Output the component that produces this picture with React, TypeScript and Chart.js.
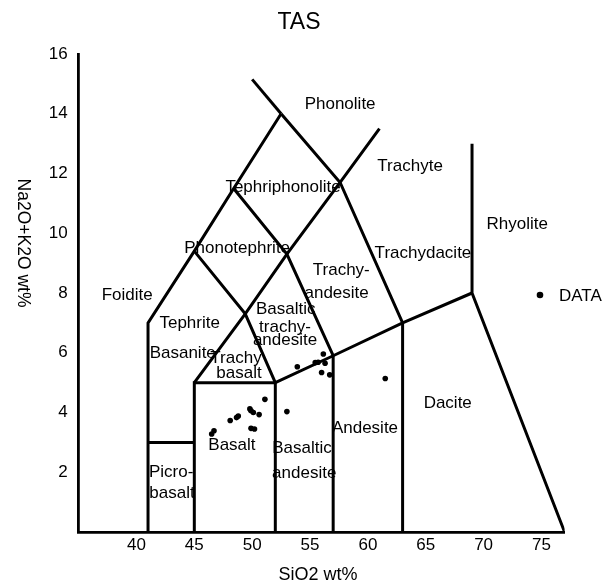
import { useEffect, useRef } from "react";
import { Chart, registerables } from "chart.js";

Chart.register(...registerables);

// ---- axis ticks ----
const xTicks = [40, 45, 50, 55, 60, 65, 70, 75];
const yTicks = [2, 4, 6, 8, 10, 12, 14, 16];

// ---- sample data (SiO2 wt%, Na2O+K2O wt%) ----
const sio2 = [51.1, 49.9, 50.1, 50.6, 49.8, 48.8, 48.65, 48.1, 49.9, 50.2, 46.7, 46.5, 53.0, 53.9, 55.45, 55.7, 56.15, 56.3, 56.0, 56.7, 61.5];
const alkali = [4.44, 4.06, 4.0, 3.93, 4.12, 3.88, 3.83, 3.73, 3.47, 3.45, 3.39, 3.28, 4.03, 5.53, 5.67, 5.68, 5.96, 5.65, 5.34, 5.26, 5.14];

// ---- TAS field boundaries (polylines, [SiO2, alkali]) ----
const boundaryLines: number[][][] = [
  [[41, 0], [41, 7], [45, 9.4], [48.4, 11.5], [52.5, 14]],
  [[52.5, 14], [50, 15.15]],
  [[52.5, 14], [57.6, 11.7], [63, 7]],
  [[45, 0], [45, 5], [52, 5], [52, 0]],
  [[41, 3], [45, 3]],
  [[45, 5], [49.4, 7.3], [53, 9.3], [57.6, 11.7], [61, 13.5]],
  [[45, 9.4], [49.4, 7.3], [52, 5]],
  [[48.4, 11.5], [53, 9.3], [57, 5.9]],
  [[52, 5], [57, 5.9], [63, 7], [69, 8]],
  [[57, 0], [57, 5.9]],
  [[63, 0], [63, 7]],
  [[69, 13], [69, 8], [77, 0]],
];

// ---- field names and their anchor points (data units) ----
const fieldNames = [
  "Phonolite", "Trachyte", "Tephriphonolite", "Rhyolite", "Phonotephrite", "Trachydacite",
  "Trachy-", "andesite", "Foidite", "Tephrite", "Basaltic", "trachy-", "andesite",
  "Basanite", "Trachy", "basalt", "Andesite", "Dacite", "Basalt", "Basaltic", "andesite",
  "Picro-", "basalt",
];
const fieldX = [57.6, 63.65, 52.67, 72.9, 48.7, 64.76, 57.7, 57.3, 39.2, 44.6, 52.9, 52.84, 52.84, 44.0, 48.6, 48.86, 59.75, 66.9, 48.25, 54.3, 54.5, 43.0, 43.07];
const fieldY = [14.33, 12.25, 11.55, 10.31, 9.51, 9.34, 8.77, 8.0, 7.93, 7.0, 7.47, 6.86, 6.43, 5.99, 5.83, 5.32, 3.48, 4.32, 2.91, 2.81, 1.98, 2.0, 1.31];

const FONT = "'Liberation Sans', Arial, Helvetica, sans-serif";

export default function App() {
  const ref = useRef<HTMLCanvasElement | null>(null);

  useEffect(() => {
    if (!ref.current) return;

    const textPlugin = {
      id: "tasText",
      afterDatasetsDraw(chart: any) {
        const { ctx, scales } = chart;
        const xs = scales.x;
        const ys = scales.y;
        ctx.save();
        ctx.fillStyle = "#000";
        ctx.textAlign = "center";
        ctx.textBaseline = "middle";
        ctx.font = `17px ${FONT}`;
        fieldNames.forEach((name, i) => {
          ctx.fillText(name, xs.getPixelForValue(fieldX[i]), ys.getPixelForValue(fieldY[i]));
        });
        // title
        ctx.font = `23px ${FONT}`;
        ctx.fillText("TAS", 299, 23);
        // x axis title
        ctx.font = `18px ${FONT}`;
        ctx.fillText("SiO2 wt%", 318, 575);
        // y axis title (reads top to bottom)
        ctx.save();
        ctx.translate(23, 243);
        ctx.rotate(Math.PI / 2);
        ctx.font = `17.5px ${FONT}`;
        ctx.fillText("Na2O+K2O wt%", 0, 0);
        ctx.restore();
        // legend
        ctx.beginPath();
        ctx.arc(540, 295, 3.3, 0, Math.PI * 2);
        ctx.fill();
        ctx.textAlign = "left";
        ctx.font = `17px ${FONT}`;
        ctx.fillText("DATA", 559, 296);
        ctx.restore();
      },
    };

    const boundaryDatasets = boundaryLines.map((line) => ({
      type: "scatter" as const,
      data: line.map(([x, y]) => ({ x, y })),
      showLine: true,
      borderColor: "#000",
      borderWidth: 3,
      pointRadius: 0,
      fill: false,
      borderJoinStyle: "miter" as const,
      tension: 0,
    }));

    const chart = new Chart(ref.current, {
      type: "scatter",
      data: {
        datasets: [
          ...boundaryDatasets,
          {
            label: "DATA",
            data: sio2.map((x, i) => ({ x, y: alkali[i] })),
            pointRadius: 2.8,
            pointBackgroundColor: "#000",
            pointBorderColor: "#000",
            pointBorderWidth: 0,
            showLine: false,
          },
        ],
      },
      options: {
        animation: false,
        responsive: false,
        layout: { padding: { left: 0, top: 54, right: 42.4, bottom: 0 } },
        plugins: {
          legend: { display: false },
          title: { display: false },
          tooltip: { enabled: false },
        },
        scales: {
          x: {
            type: "linear",
            min: 35,
            max: 77,
            grid: { display: false, drawTicks: false },
            border: { display: true, color: "#000", width: 2.8 },
            ticks: { color: "#000", font: { family: FONT, size: 17 }, padding: 3 },
            afterBuildTicks: (scale: any) => {
              scale.ticks = xTicks.map((v) => ({ value: v }));
            },
            afterFit: (scale: any) => {
              scale.height = 52;
            },
          },
          y: {
            type: "linear",
            min: 0,
            max: 16,
            grid: { display: false, drawTicks: false },
            border: { display: true, color: "#000", width: 2.8 },
            ticks: { color: "#000", font: { family: FONT, size: 17 }, padding: 11 },
            afterBuildTicks: (scale: any) => {
              scale.ticks = yTicks.map((v) => ({ value: v }));
            },
            afterFit: (scale: any) => {
              scale.width = 78.6;
            },
          },
        },
      },
      plugins: [textPlugin],
    });

    return () => chart.destroy();
  }, []);

  return (
    <div style={{ position: "fixed", left: 0, top: 0, width: 607, height: 584, background: "#fff" }}>
      <canvas ref={ref} width={607} height={584} style={{ display: "block" }} />
    </div>
  );
}
